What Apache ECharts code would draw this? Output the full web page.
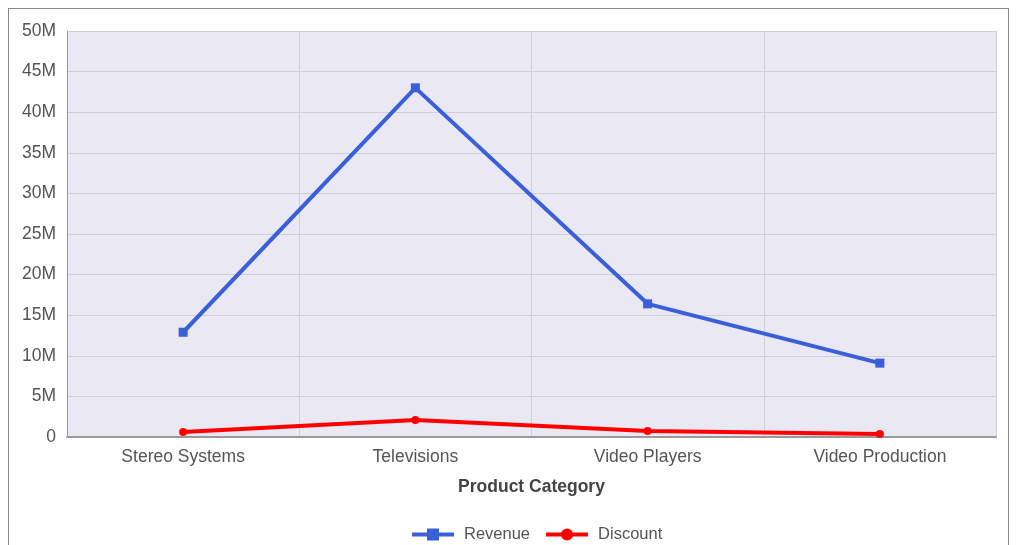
<!DOCTYPE html>
<html>
<head>
<meta charset="utf-8">
<script src="https://cdn.jsdelivr.net/npm/echarts@6/dist/echarts.min.js"></script>
<style>
  html, body { margin: 0; padding: 0; background: #fdfefd; }
  #frame { position: absolute; left: 8px; top: 8px; width: 1001px; height: 560px; border: 1px solid #8a8a8a; box-sizing: border-box; }
  #chart { position: absolute; left: 0; top: 0; width: 1018px; height: 545px; }
</style>
</head>
<body>
<div id="frame"></div>
<div id="chart"></div>
<script>
// Product categories on the x axis
const categories = ['Stereo Systems', 'Televisions', 'Video Players', 'Video Production'];
// Revenue and discount totals (in dollars)
const revenue = [12900000, 43000000, 16400000, 9100000];
const discount = [620000, 2100000, 740000, 370000];

const fontFamily = '"Liberation Sans", Arial, sans-serif';

const chart = echarts.init(document.getElementById('chart'), null, { renderer: 'canvas' });

function fmtM(v) {
  return v === 0 ? '0' : (v / 1000000) + 'M';
}

chart.setOption({
  animation: false,
  textStyle: { fontFamily: fontFamily },
  grid: {
    left: 67, right: 22, top: 31, bottom: 108,
    show: true,
    backgroundColor: '#e9e8f3',
    borderWidth: 0
  },
  xAxis: {
    type: 'category',
    data: categories,
    boundaryGap: true,
    name: 'Product Category',
    nameLocation: 'middle',
    nameGap: 41,
    nameTextStyle: { fontSize: 17.5, fontWeight: 'bold', color: '#444', fontFamily: fontFamily },
    axisLine: { lineStyle: { color: '#999', width: 2 } },
    axisTick: { show: false },
    axisLabel: { fontSize: 17.5, color: '#555', margin: 11, fontFamily: fontFamily },
    splitLine: { show: true, lineStyle: { color: '#cfcfd8', width: 1 } }
  },
  yAxis: {
    type: 'value',
    min: 0,
    max: 50000000,
    interval: 5000000,
    axisLine: { show: true, lineStyle: { color: '#999', width: 1 } },
    axisTick: { show: false },
    axisLabel: { fontSize: 17.5, color: '#555', margin: 11, formatter: fmtM, fontFamily: fontFamily },
    splitLine: { show: true, lineStyle: { color: '#cfcfd8', width: 1 } }
  },
  legend: {
    bottom: -3,
    left: 405,
    itemWidth: 42,
    itemHeight: 15,
    itemGap: 14,
    lineStyle: { width: 4 },
    textStyle: { fontSize: 16.5, color: '#555', fontFamily: fontFamily, padding: [0, 0, 0, 5] },
    data: ['Revenue', 'Discount']
  },
  series: [
    {
      name: 'Revenue',
      type: 'line',
      data: revenue,
      color: '#3a5fd9',
      symbol: 'rect',
      symbolSize: 9,
      lineStyle: { width: 4, color: '#3a5fd9' },
      itemStyle: { color: '#3a5fd9' }
    },
    {
      name: 'Discount',
      type: 'line',
      data: discount,
      color: '#ff0000',
      symbol: 'circle',
      symbolSize: 8,
      lineStyle: { width: 4, color: '#ff0000' },
      itemStyle: { color: '#ff0000' }
    }
  ]
});
</script>
</body>
</html>
